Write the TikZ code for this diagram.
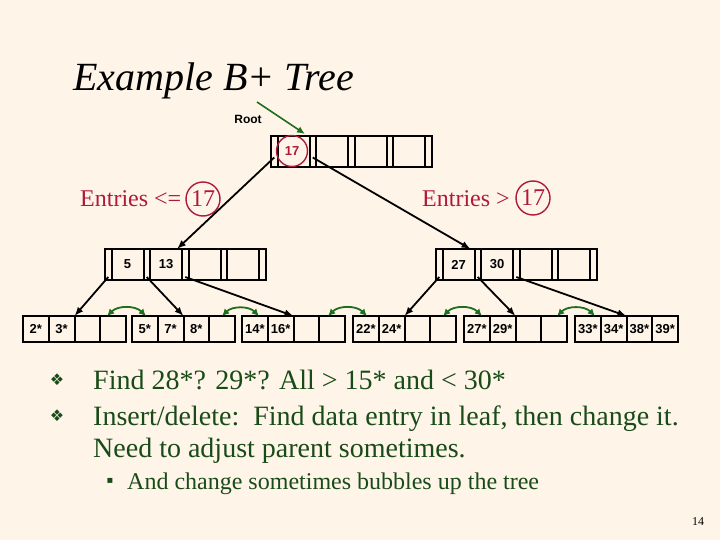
\documentclass[tikz,border=0pt]{standalone}
\usepackage{fontspec}
\setmainfont{Liberation Serif}
\setsansfont{Liberation Sans}
\newfontfamily\symfont{DejaVu Sans}
\usetikzlibrary{arrows.meta,calc}
\definecolor{bg}{RGB}{254,245,232}
\definecolor{crim}{RGB}{175,25,60}
\definecolor{txtgreen}{RGB}{25,75,25}
\definecolor{arrgreen}{RGB}{30,110,30}
\newcommand{\bpInner}[4]{%
  \foreach \i in {0,...,4}{\node[pslot] (#1p\i) at ({#2+3.25+\i*38.5},{#3+15.5}) {};}
  \foreach \k [count=\j from 0] in {#4}{\node[kslot] (#1k\j) at ({#2+6.5+16+\j*38.5},{#3+15.5}) {\k};}
}
\newcommand{\bpLeaf}[4]{%
  \foreach \k [count=\j from 0] in {#4}{\node[lslot] (#1c\j) at ({#2+12.875+\j*25.75},{#3+13}) {\k};}
}
\begin{document}
\begin{tikzpicture}[x=1pt,y=-1pt,
  lbl/.style={font=\sffamily\bfseries\fontsize{13}{13}\selectfont},
  pslot/.style={draw,line width=2pt,minimum width=6.5pt,minimum height=31pt,inner sep=0pt,outer sep=0pt},
  kslot/.style={draw,line width=2pt,minimum width=32pt,minimum height=31pt,inner sep=0pt,outer sep=0pt,lbl},
  lslot/.style={draw,line width=2pt,minimum width=25.75pt,minimum height=26pt,inner sep=0pt,outer sep=0pt,lbl},
  ptr/.style={line width=1.8pt,-{Latex[length=9pt,width=7pt]}},
  sib/.style={arrgreen,line width=1.8pt,{Latex[length=7pt,width=7pt]}-{Latex[length=7pt,width=7pt]},bend left=45},
  ring/.style={circle,draw=crim,line width=1.4pt,inner sep=0pt,text=crim},
  body/.style={anchor=base west,inner sep=0pt,text=txtgreen,font=\fontsize{28}{28}\selectfont},
  bul/.style={text=txtgreen,font=\symfont\fontsize{16}{16}\selectfont}]
\path[use as bounding box,fill=bg] (0,0) rectangle (720,540);

% title
\node[anchor=base west,inner sep=0pt,font=\fontsize{40}{40}\selectfont\itshape] (title) at (73,91) {Example B+ Tree};

% root
\bpInner{R}{271}{136}{{},{},{},{}}
\node[ring,minimum size=31pt,lbl] (rc) at (292,151) {17};
\node[lbl,font=\sffamily\bfseries\fontsize{12}{12}\selectfont] (rootlbl) at (248,119) {Root};
\coordinate (rootstart) at (257,102);
\coordinate (rootend) at (305,134);
\draw[arrgreen,line width=1.6pt,-{Latex[length=8pt,width=7pt]}] (rootstart) -- (rootend);

% index nodes
\bpInner{I}{105}{249}{5,13,{},{}}
\bpInner{J}{436}{249}{27,30,{},{}}

% labels
\node[anchor=base west,inner sep=0pt,text=crim,font=\fontsize{24}{24}\selectfont] (eL) at (80,207) {Entries <=};
\node[ring,minimum size=34pt,font=\fontsize{24}{24}\selectfont] (cL) at (203,199) {17};
\node[anchor=base west,inner sep=0pt,text=crim,font=\fontsize{24}{24}\selectfont] (eR) at (422,207) {Entries >};
\node[ring,minimum size=34pt,font=\fontsize{24}{24}\selectfont] (cR) at (533,198) {17};

% leaves
\bpLeaf{LA}{23}{316}{2*,3*,{},{}}
\bpLeaf{LB}{132}{316}{5*,7*,8*,{}}
\bpLeaf{LC}{242}{316}{14*,16*,{},{}}
\bpLeaf{LD}{353}{316}{22*,24*,{},{}}
\bpLeaf{LE}{464}{316}{27*,29*,{},{}}
\bpLeaf{LF}{575}{316}{33*,34*,38*,39*}

% pointers
\draw[ptr] ($(Rp0.center)+(0,6)$) -- ($(Ik1.north east)+(-5,0)$);
\draw[ptr] ($(Rp1.center)+(0,6)$) -- ($(Jk0.north east)+(-4,0)$);
\draw[ptr] ($(Ip0.south)+(0,-3)$) -- (LAc1.north east);
\draw[ptr] ($(Ip1.south)+(0,-3)$) -- (LBc1.north east);
\draw[ptr] ($(Ip2.south)+(0,-3)$) -- (LCc1.north east);
\draw[ptr] ($(Jp0.south)+(0,-3)$) -- (LDc1.north east);
\draw[ptr] ($(Jp1.south)+(0,-3)$) -- (LEc1.north east);
\draw[ptr] ($(Jp2.south)+(0,-3)$) -- (LFc1.north east);

% sibling links
\draw[sib] ($(LAc3.north)+(-6,0)$) to ($(LBc0.north)+(1,0)$);
\draw[sib] ($(LBc3.north)+(0,0)$) to ($(LCc0.north)+(4,0)$);
\draw[sib] ($(LCc3.north)+(-4,0)$) to ($(LDc0.north)+(1,0)$);
\draw[sib] ($(LDc3.north)+(0,0)$) to ($(LEc0.north)+(5,0)$);
\draw[sib] ($(LEc3.north)+(3,0)$) to ($(LFc0.north)+(7,0)$);

% bullets
\node[bul] (b1) at (57,380) {❖};
\node[body] (t1) at (93,389) {Find 28*? 29*? All > 15* and < 30*};
\node[bul] (b2) at (57,416) {❖};
\node[body] (t2) at (93,425) {Insert/delete:\ \ Find data entry in leaf, then change it.};
\node[body] (t3) at (93,457) {Need to adjust parent sometimes.};
\node[text=txtgreen,font=\symfont\fontsize{10}{10}\selectfont] (b3) at (110,481) {▪};
\node[anchor=base west,inner sep=0pt,text=txtgreen,font=\fontsize{24}{24}\selectfont] (t4) at (127,489) {And change sometimes bubbles up the tree};
\node[font=\fontsize{12}{12}\selectfont] (pg) at (698,522) {14};
\end{tikzpicture}
\end{document}
